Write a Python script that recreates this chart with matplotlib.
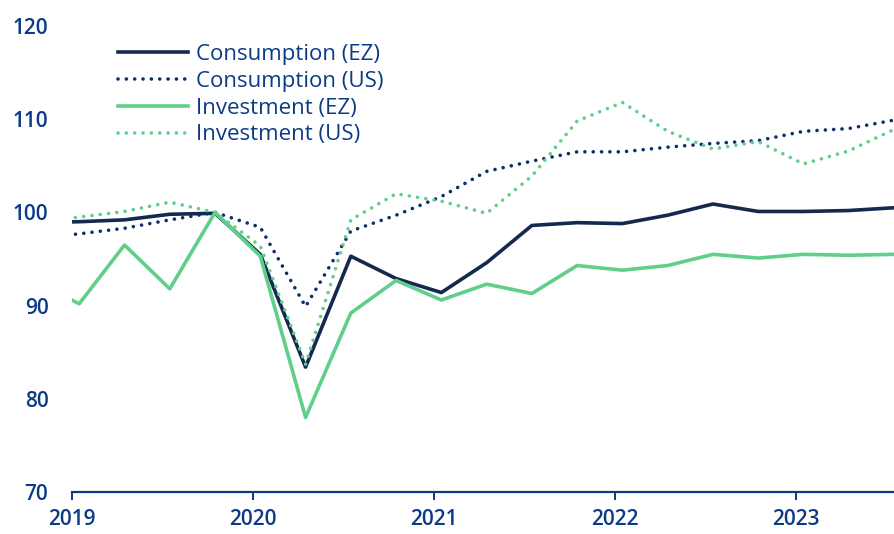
import matplotlib.pyplot as plt

# quarterly index values, 2018Q4 .. 2023Q3 (2019Q4 = 100)
years = [2018] + [y for y in range(2019, 2024) for _ in range(4)][:19]
quarters = [4] + [q for _ in range(2019, 2024) for q in range(1, 5)][:19]

cons_ez = [98.9, 99.0, 99.2, 99.8, 99.9, 95.5, 83.4, 95.3, 92.9, 91.4, 94.6,
           98.6, 98.9, 98.8, 99.7, 100.9, 100.1, 100.1, 100.2, 100.5]
cons_us = [97.2, 97.7, 98.3, 99.2, 100.0, 98.4, 89.9, 98.0, 99.7, 101.7, 104.4,
           105.5, 106.5, 106.5, 107.0, 107.4, 107.7, 108.7, 109.0, 109.9]
inv_ez = [92.6, 90.2, 96.5, 91.8, 100.0, 95.3, 78.0, 89.2, 92.7, 90.6, 92.3,
          91.3, 94.3, 93.8, 94.3, 95.5, 95.1, 95.5, 95.4, 95.5]
inv_us = [98.9, 99.5, 100.1, 101.1, 100.0, 96.4, 83.7, 99.2, 102.0, 101.2, 99.9,
          103.9, 109.8, 111.8, 108.7, 106.8, 107.6, 105.2, 106.6, 108.9]

x = [y + (q - 1) / 4 + 0.04 for y, q in zip(years, quarters)]

NAVY = "#15294f"
NAVY_DOT = "#0a2f6e"
GREEN = "#5fcf8a"
TEXT = "#0b3b86"

plt.rcParams["font.family"] = ["Open Sans", "DejaVu Sans"]

fig = plt.figure(figsize=(8.94, 5.34), dpi=100)
ax = fig.add_axes([72 / 894, 42 / 534, 1 - 72 / 894, 466 / 534])

dot = (0, (0.01, 2.3))
ax.plot(x, cons_ez, color=NAVY, lw=2.6, label="Consumption (EZ)")
ax.plot(x, cons_us, color=NAVY_DOT, lw=2.6, ls=dot, dash_capstyle="round",
        label="Consumption (US)")
ax.plot(x, inv_ez, color=GREEN, lw=2.6, label="Investment (EZ)")
ax.plot(x, inv_us, color=GREEN, lw=2.6, ls=dot, dash_capstyle="round",
        label="Investment (US)")

ax.set_xlim(2019, x[-1])
ax.set_ylim(70, 120)
ax.set_xticks([2019, 2020, 2021, 2022, 2023])
ax.set_yticks([70, 80, 90, 100, 110, 120])

for s in ["top", "right", "left"]:
    ax.spines[s].set_visible(False)
ax.spines["bottom"].set_color(TEXT)
ax.spines["bottom"].set_linewidth(1.6)
ax.tick_params(axis="x", colors=TEXT, length=6, width=1.4, labelsize=15,
               pad=6)
ax.tick_params(axis="y", colors=TEXT, length=0, labelsize=15, pad=17)
for lab in ax.get_xticklabels() + ax.get_yticklabels():
    lab.set_fontweight("semibold")

leg = ax.legend(loc="upper left", bbox_to_anchor=(118 / 894, 1 - 44 / 534),
                bbox_transform=fig.transFigure, frameon=False, fontsize=16,
                handlelength=3.15, handletextpad=0.36, labelspacing=0.26,
                borderpad=0, borderaxespad=0)
for t in leg.get_texts():
    t.set_color(TEXT)
    t.set_fontweight("medium")

fig.savefig("out.png", dpi=100)
